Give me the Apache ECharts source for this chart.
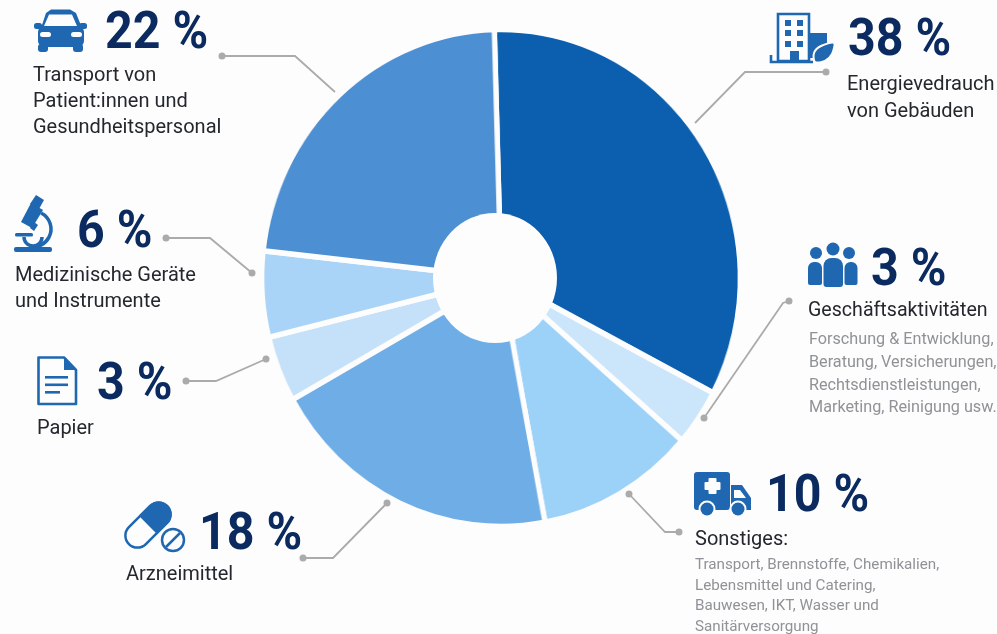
<!DOCTYPE html>
<html><head><meta charset="utf-8">
<style>html,body{margin:0;padding:0;background:#fdfdfd}
#wrap{position:relative;width:997px;height:634px;overflow:hidden}
#pie,#c{position:absolute;left:0;top:0;width:997px;height:634px}
/* the reference's disc is slightly narrower than it is tall */
#pie{transform-origin:501px 278px;transform:scaleX(0.963)}</style>
<script src="https://cdn.jsdelivr.net/npm/echarts@6/dist/echarts.min.js"></script>
</head><body><div id="wrap"><div id="pie"></div><div id="c"></div></div>
<script>
// Slice names in drawing order (clockwise from 12 o'clock)
const categories = ['Energieverbrauch von Gebäuden','Geschäftsaktivitäten','Sonstiges','Arzneimittel','Papier','Medizinische Geräte und Instrumente','Transport von Patient:innen und Gesundheitspersonal'];
// Share of the circle as actually drawn in the picture
const drawnShares = [33.1, 3.7, 10.7, 19.8, 4.3, 5.6, 22.8];
// Percentages as printed beside the slices
const printedPercents = ['38 %','3 %','10 %','18 %','3 %','6 %','22 %'];
const sliceColors = ['#0b5fae','#cbe5fb','#9dd2f8','#6fade6','#c5e1fa','#a9d4f8','#4c8fd2'];

const NAVY='#0b2b60', BLUE='#1f67b1', DARK='#24282e', GRAY='#8f9296', LINE='#ababab', BG='#fdfdfd';
const FF='Roboto, sans-serif';

function T(text,x,y,font,fill){return {type:'text',silent:true,style:{text,x,y,font,fill,textAlign:'left',textVerticalAlign:'middle'}};}
const big=(i,x,y)=>({type:'text',silent:true,x:x,y:y+3,scaleX:0.93,style:{text:printedPercents[i],x:0,y:0,font:'700 52px '+FF,fill:NAVY,textAlign:'left',textVerticalAlign:'middle'}});
const desc=(s,x,y,fs)=>T(s,x,y+1.5,'400 '+(fs||20)+'px '+FF,DARK);
const small=(s,x,y,fs)=>T(s,x,y+1.5,'400 '+fs+'px '+FF,GRAY);

function leader(pts,dots){
  const o=[{type:'polyline',silent:true,shape:{points:pts},style:{stroke:LINE,lineWidth:1.8,fill:null}}];
  dots.forEach(d=>o.push({type:'circle',silent:true,shape:{cx:d[0],cy:d[1],r:3.5},style:{fill:LINE}}));
  return o;
}
const R=(x,y,w,h,r,fill)=>({type:'rect',silent:true,shape:{x,y,width:w,height:h,r:r||0},style:{fill:fill||BLUE}});
const C=(cx,cy,r,fill)=>({type:'circle',silent:true,shape:{cx,cy,r},style:{fill:fill||BLUE}});
const P=(pts,fill,extra)=>({type:'polygon',silent:true,shape:Object.assign({points:pts},extra||{}),style:{fill:fill||BLUE}});
const L=(pts,w)=>({type:'polyline',silent:true,shape:{points:pts},style:{stroke:BLUE,lineWidth:w||2.5,fill:null}});

const car=[
  P([[41,28],[46,13],[51,9.5],[70,9.5],[76,13],[82,28]]),
  P([[49,14.5],[72,14.5],[77,26],[44,26]],BG),
  R(38,26,46,21,6),
  R(34,23,8,6,2.5),R(79,23,8,6,2.5),
  R(38,44,10,8,3),R(73,44,10,8,3),
  R(40,32,11,5,2.5,BG),R(71,32,11,5,2.5,BG)
];
const microscope=[
  R(14,247,38,5,2),
  {type:'arc',silent:true,shape:{cx:33,cy:229,r:18,startAngle:-1.1,endAngle:1.75,clockwise:true},style:{stroke:BLUE,lineWidth:3.5,fill:null}},
  {type:'arc',silent:true,shape:{cx:33,cy:237,r:9,startAngle:0,endAngle:3.14,clockwise:true},style:{stroke:BLUE,lineWidth:3.5,fill:null}},
  R(15,233,18,3.5,1.5),
  P([[21,222],[31,203],[43,210],[32,228]]),
  P([[30,204],[36,195],[44,200],[39,209]]),
  P([[30,228],[34,222],[38,225],[34,231]])
];
const paper=[
  {type:'polygon',silent:true,shape:{points:[[38.5,357.5],[64,357.5],[76,370],[76,404],[38.5,404]]},style:{fill:BG,stroke:BLUE,lineWidth:2.6,lineJoin:'round'}},
  P([[64,358],[76,370],[64,370]]),
  R(45,376,23,2.6),R(45,383.5,23,2.6),R(45,391,15,2.6)
];
const pill=[{type:'group',x:148,y:525,rotation:Math.PI/4,children:[
  {type:'rect',silent:true,shape:{x:-27,y:-12,width:54,height:24,r:12},style:{fill:BG,stroke:BLUE,lineWidth:2.5}},
  {type:'rect',silent:true,shape:{x:0,y:-13,width:28,height:26,r:[0,13,13,0]},style:{fill:BLUE}}
]},
 {type:'circle',silent:true,shape:{cx:173,cy:540,r:11},style:{fill:BG,stroke:BLUE,lineWidth:2.5}},
 L([[166,547],[180,533]],2.5)
];
const building=[
  R(809,33,18,25),
  {type:'rect',silent:true,shape:{x:778,y:14,width:31,height:47},style:{fill:BG,stroke:BLUE,lineWidth:2.6}},
  L([[771,55],[771,62],[813,62]],2.6),
  R(790,51,9,11)
];
[20,30,41].forEach(y=>[785,797].forEach(x=>building.push(R(x,y,6,6))));
building.push(
  {type:'polygon',silent:true,shape:{points:[[815,62],[814,53],[821,46],[834,43],[832,54],[825,61]],smooth:0.3},style:{fill:BLUE,stroke:BG,lineWidth:2}}
);
const people=[
  C(816,253,6),C(833,249,6.5),C(849,253,6),
  R(808,262,14,23,[6,6,2,2]),R(823.5,258,19.5,29,[8,8,3,3]),R(844.5,262,13,23,[6,6,2,2])
];
const ambulance=[
  R(694,472,36,38,3),
  P([[731,485],[742,485],[751,498],[751,510],[731,510]]),
  P([[734,490],[740,490],[746,498],[734,498]],BG),
  R(708.5,478,8,16,1,BG),R(704.5,482,16,8,1,BG),
  C(707,509,8.5,BG),C(707,509,6.5),C(738,509,8.5,BG),C(738,509,6.5)
];

const texts=[
  big(6,105,32),desc('Transport von',33,74),desc('Patient:innen und',33,100),desc('Gesundheitspersonal',33,126),
  big(5,77,231),desc('Medizinische Geräte',15,274),desc('und Instrumente',15,300),
  big(4,97,383),desc('Papier',37,427),
  big(3,199,533),desc('Arzneimittel',126,573),
  big(0,848,39),desc('Energievedrauch',847,83),desc('von Gebäuden',847,110),
  big(1,871,269),desc('Geschäftsaktivitäten',808,310,19.6),
  small('Forschung & Entwicklung,',809,338,16.2),small('Beratung, Versicherungen,',809,361,16.2),small('Rechtsdienstleistungen,',809,384,16.2),small('Marketing, Reinigung usw.',809,406,16.2),
  big(2,766,495),desc('Sonstiges:',695,538),
  small('Transport, Brennstoffe, Chemikalien,',695,564,15.2),small('Lebensmittel und Catering,',695,585,15.2),small('Bauwesen, IKT, Wasser und',695,605,15.2),small('Sanitärversorgung',695,626,15.2)
];
const leaders=[].concat(
  leader([[222,56],[295,56],[335,92]],[[222,56]]),
  leader([[166,238],[210,238],[252,273]],[[166,238],[252,273]]),
  leader([[186,381],[216,381],[266,359]],[[186,381],[266,359]]),
  leader([[303,558],[333,558],[387,503]],[[303,558],[387,503]]),
  leader([[629,494],[665,532],[679,532]],[[629,494],[679,532]]),
  leader([[704,418],[783,303],[789,301]],[[704,418],[789,301]]),
  leader([[826,72],[745,72],[695,123]],[[826,72]])
);

const pieChart=echarts.init(document.getElementById('pie'),null,{renderer:'canvas'});
pieChart.setOption({
  animation:false,
  backgroundColor:BG,
  series:[{type:'pie',center:[501,278],radius:[0,248.5],startAngle:91.6,clockwise:true,silent:true,
    label:{show:false},labelLine:{show:false},
    itemStyle:{borderColor:BG,borderWidth:5.5},
    data:categories.map((name,i)=>({name,value:drawnShares[i],itemStyle:{color:sliceColors[i]}}))}]
});
const chart=echarts.init(document.getElementById('c'),null,{renderer:'canvas'});
chart.setOption({
  animation:false,
  backgroundColor:'transparent',
  graphic:{elements:[].concat(
    [{type:'ellipse',silent:true,shape:{cx:495,cy:278,rx:62,ry:65},style:{fill:BG}}],
    leaders,texts,car,microscope,paper,pill,building,people,ambulance)}
});
</script></body></html>
